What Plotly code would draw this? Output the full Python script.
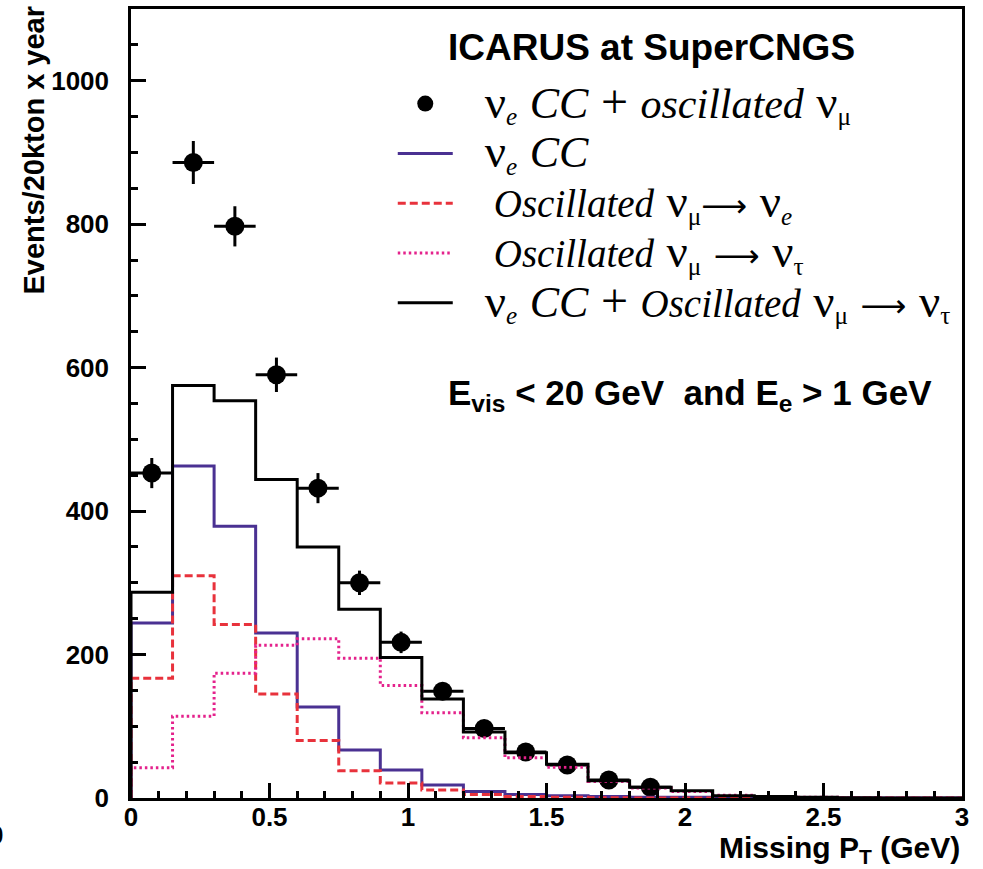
import plotly.graph_objects as go

# ---------------- data ----------------
bin_edges = [0.0, 0.15, 0.3, 0.45, 0.6, 0.75, 0.9, 1.05, 1.2, 1.35, 1.5,
             1.65, 1.8, 1.95, 2.1, 2.25, 2.4, 2.55, 2.7, 2.85, 3.0]

nue_cc = [244, 463, 379, 230, 127, 67, 39, 18, 9, 5, 3, 2, 1, 1, 0.5, 0.3, 0, 0, 0, 0]
osc_mu_e = [167, 310, 242, 145, 80, 38, 21, 11, 5, 2, 1, 0.5, 0, 0, 0, 0, 0, 0, 0, 0]
osc_mu_tau = [42, 114, 174, 213, 222, 195, 157, 119, 84, 56, 43, 23, 14, 9, 4, 2, 1, 0.5, 0, 0]
total_cc_tau = [287, 575, 554, 444, 350, 263, 196, 138, 92, 63, 47, 24, 15, 10, 3, 2, 1, 0.5, 0, 0]

pt_centers = [0.075, 0.225, 0.375, 0.525, 0.675, 0.825, 0.975, 1.125,
              1.275, 1.425, 1.575, 1.725, 1.875]
pt_values = [453, 886, 797, 590, 432, 300, 217, 149, 97, 64, 46, 25, 15]
pt_errors = [21, 30, 28, 24, 21, 17, 15, 12, 10, 8, 7, 5, 4]
pt_xhalf = [0.075] * len(pt_centers)

x_ticks = [0, 0.5, 1, 1.5, 2, 2.5, 3]
x_ticklabels = ["0", "0.5", "1", "1.5", "2", "2.5", "3"]
y_ticks = [0, 200, 400, 600, 800, 1000]
y_ticklabels = ["0", "200", "400", "600", "800", "1000"]

# ---------------- styles ----------------
C_BLUE = "#4a3192"
C_RED = "#e8323c"
C_MAG = "#e4228c"
SERIF = "Liberation Serif"
SANS = "Liberation Sans"
NB = "\u00a0"
PAD = NB * 3


def step_xy(edges, vals):
    xs = [edges[0]] + list(edges[:-1]) + [edges[-1]]
    ys = [0] + list(vals) + [vals[-1]]
    return xs, ys


def sz(txt, size, family=None):
    fam = f"font-family:{family};" if family else ""
    return f'<span style="{fam}font-size:{size}px">{txt}</span>'


def it(txt, size=39):
    return sz(f"<i>{txt}</i>", size)


def nu(sub, italic=False):
    s = f"<i>{sub}</i>" if italic else sub
    return sz("ν", 47) + f"<sub>{s}</sub>"


SP = sz(NB, 50)
ARROW = sz("⟶", 32, "DejaVu Sans")
PLUS = sz("+", 48)
CC = it("CC", 44)

fig = go.Figure()

# data points
fig.add_trace(go.Scatter(
    x=pt_centers, y=pt_values, mode="markers",
    marker=dict(color="black", size=19),
    error_y=dict(type="data", array=pt_errors, color="black", thickness=3, width=0),
    error_x=dict(type="data", array=pt_xhalf, color="black", thickness=3, width=0),
    name=PAD + nu("e", True) + SP + CC + SP + PLUS + SP + it("oscillated", 42) + SP + nu("μ"),
    legendrank=1,
))

hists = [
    (nue_cc, C_BLUE, "solid", PAD + nu("e", True) + SP + CC, 2),
    (osc_mu_e, C_RED, "8px,4px",
     PAD + NB + it("Oscillated") + SP + nu("μ") + ARROW + SP + nu("e", True), 3),
    (osc_mu_tau, C_MAG, "2.5px,3px",
     PAD + NB + it("Oscillated") + SP + nu("μ") + SP + ARROW + SP + nu("τ"), 4),
    (total_cc_tau, "black", "solid",
     PAD + nu("e", True) + SP + CC + SP + PLUS + SP + it("Oscillated") + SP + nu("μ")
     + SP + ARROW + SP + nu("τ"), 5),
]
for vals, col, dash, name, rank in hists:
    xs, ys = step_xy(bin_edges, vals)
    fig.add_trace(go.Scatter(
        x=xs, y=ys, mode="lines", line=dict(color=col, width=3, dash=dash, shape="hv"),
        name=name, legendrank=rank,
    ))

axis_common = dict(
    showline=True, linecolor="black", linewidth=2.5, mirror=True,
    ticks="inside", tickcolor="black", tickwidth=2.5, ticklen=15,
    showgrid=False, zeroline=False,
    tickfont=dict(family=SANS, size=26, color="black", weight="bold"),
)

fig.update_xaxes(
    range=[0, 3], tickvals=x_ticks, ticktext=x_ticklabels,
    minor=dict(dtick=0.1, ticks="inside", ticklen=7, tickcolor="black", tickwidth=2.5),
    ticklabelstandoff=-6,
    **axis_common,
)
fig.update_yaxes(
    range=[0, 1100], tickvals=y_ticks, ticktext=y_ticklabels,
    minor=dict(dtick=50, ticks="inside", ticklen=7, tickcolor="black", tickwidth=2.5),
    ticklabelstandoff=14,
    **axis_common,
)

fig.update_layout(
    width=983, height=869,
    margin=dict(l=131, r=21, t=6, b=71),
    paper_bgcolor="white", plot_bgcolor="white",
    showlegend=True,
    legend=dict(
        x=0.315, y=0.918, xanchor="left", yanchor="top",
        bgcolor="rgba(0,0,0,0)", borderwidth=0,
        font=dict(family=SERIF, size=36, color="black"),
        itemwidth=55, tracegroupgap=0,
    ),
    annotations=[
        dict(text="ICARUS at SuperCNGS", xref="paper", yref="paper",
             x=(652 - 131) / 831.5, y=(798 - 45) / 792, xanchor="center", yanchor="middle",
             showarrow=False, font=dict(family=SANS, size=37, color="black", weight="bold")),
        dict(text="E<sub>vis</sub> < 20 GeV" + NB + NB + "and E<sub>e</sub> > 1 GeV",
             xref="paper", yref="paper",
             x=(690 - 131) / 831.5, y=(798 - 393) / 792, xanchor="center", yanchor="middle",
             showarrow=False, font=dict(family=SANS, size=35, color="black", weight="bold")),
        dict(text="Events/20kton x year", xref="paper", yref="paper",
             x=(34 - 131) / 831.5, y=(798 - 148) / 792, xanchor="center", yanchor="middle",
             textangle=-90, showarrow=False,
             font=dict(family=SANS, size=29, color="black", weight="bold")),
        dict(text="Missing P<sub>T</sub> (GeV)", xref="paper", yref="paper",
             x=1.0, y=(798 - 850) / 792, xanchor="right", yanchor="middle",
             showarrow=False, font=dict(family=SANS, size=30, color="black", weight="bold")),
        dict(text="0", xref="paper", yref="paper",
             x=(-4 - 131) / 831.5, y=(798 - 835) / 792, xanchor="center", yanchor="middle",
             showarrow=False, font=dict(family=SANS, size=26, color="black", weight="bold")),
    ],
)

fig.write_html("out.html")
